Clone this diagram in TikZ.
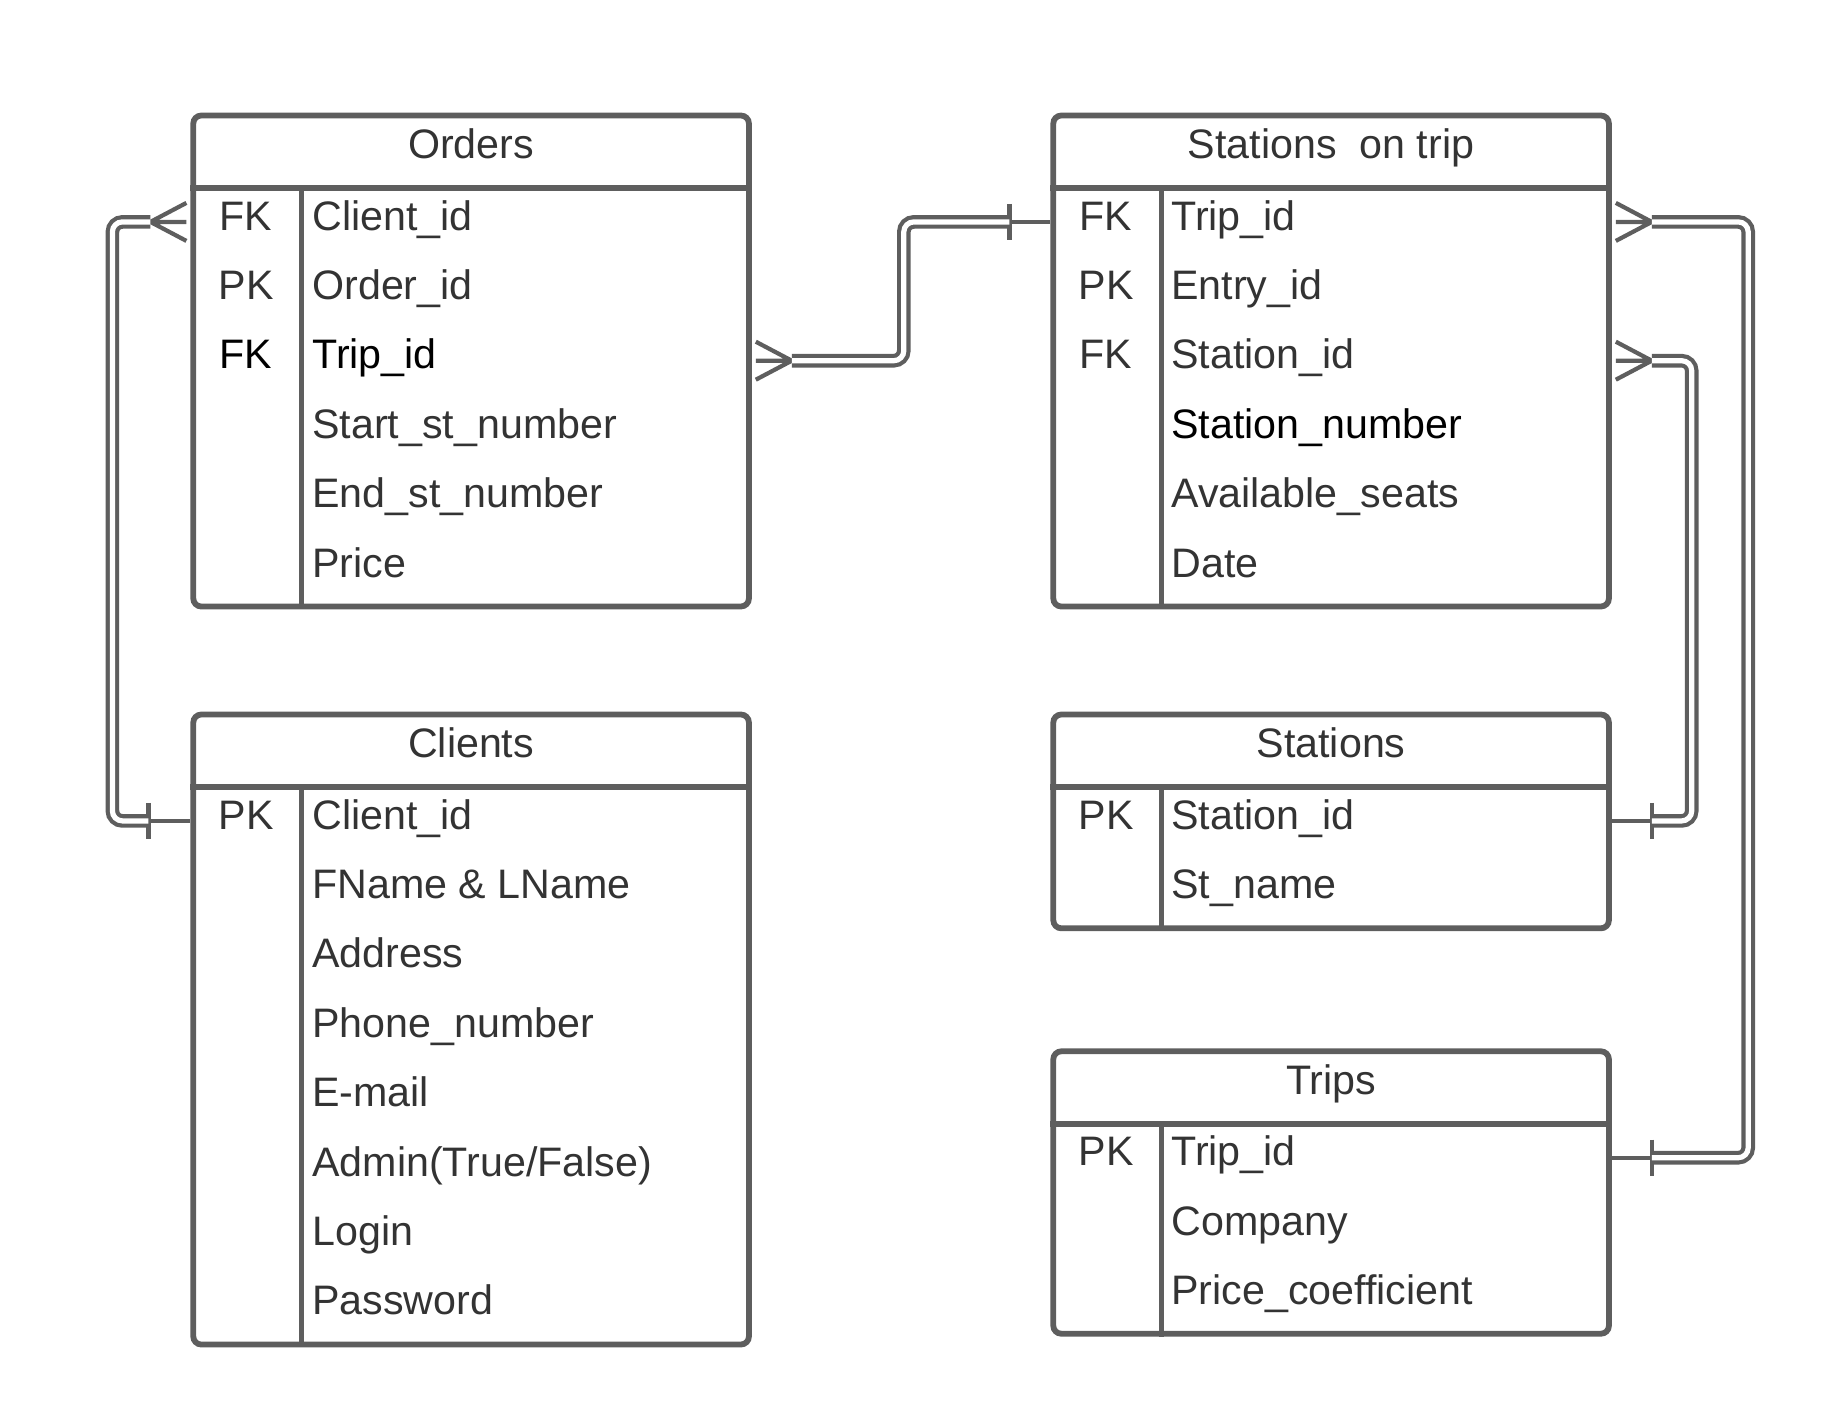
\documentclass[tikz,border=0pt]{standalone}
\usepackage{fontspec}
\setmainfont{Liberation Sans}
\usetikzlibrary{positioning}
\definecolor{linegray}{rgb}{0.37,0.37,0.37}
\definecolor{txtgray}{rgb}{0.2,0.2,0.2}
\tikzset{
  crowfoot/.pic={\draw[conn] (0,-9.5) -- (18,0) -- (0,9.5) (0,0) -- (18,0);},
  onebar/.pic={\draw[conn] (0,-9) -- (0,9);}
}

\begin{document}
\begin{tikzpicture}[x=1pt,y=-1pt,font=\fontsize{20.6}{24}\selectfont]
\tikzstyle{tbl}=[rectangle, draw=linegray, line width=2.9pt, rounded corners=4pt, minimum width=277.8pt, anchor=north west, inner sep=0pt]
\tikzstyle{ttl}=[anchor=north, minimum height=37.3pt, inner sep=0pt, text=txtgray, text height=14.6pt, text depth=6.4pt]
\tikzstyle{key}=[inner sep=0pt, text=txtgray, text height=14.6pt, text depth=6.4pt]
\tikzstyle{fld}=[key, anchor=west]
\tikzstyle{tline}=[draw=linegray, line width=2.9pt]
\tikzstyle{conn}=[draw=linegray, line width=2.1pt]
\tikzstyle{dbl}=[draw=linegray, line width=2.1pt, double=white, double distance=2.6pt, rounded corners=5pt]

\useasboundingbox (0,0) rectangle (911.5,709);

	% Orders
	\node[tbl, minimum height=245.5pt] (ord) at (95.2,56.3) {};
	\node[ttl] (ordT) at (ord.north) {Orders};
	\coordinate (ordK) at ([xshift=55.5pt]ord.north west);
	\draw[tline] (ordT.south -| ord.west) -- (ordT.south -| ord.east);
	\draw[tline] (ordK |- ordT.south) -- (ordK |- ord.south);

	\pgfmathsetmacro{\posv}{93.6};
	\node[key] (ord1k) at (123,\posv+17.35) {FK};
	\node[fld] (ord1) at (156,\posv+17.35) {Client\_id};
	\node[key] (ord2k) at (123,\posv+52.05) {PK};
	\node[fld] (ord2) at (156,\posv+52.05) {Order\_id};
	\node[key, text=black] (ord3k) at (123,\posv+86.75) {FK};
	\node[fld, text=black] (ord3) at (156,\posv+86.75) {Trip\_id};
	\node[fld] (ord4) at (156,\posv+121.45) {Start\_st\_number};
	\node[fld] (ord5) at (156,\posv+156.15) {End\_st\_number};
	\node[fld] (ord6) at (156,\posv+190.85) {Price};

	% Clients
	\node[tbl, minimum height=315pt] (cli) at (95.2,355.8) {};
	\node[ttl] (cliT) at (cli.north) {Clients};
	\coordinate (cliK) at ([xshift=55.5pt]cli.north west);
	\draw[tline] (cliT.south -| cli.west) -- (cliT.south -| cli.east);
	\draw[tline] (cliK |- cliT.south) -- (cliK |- cli.south);

	\pgfmathsetmacro{\posv}{393.1};
	\node[key] (cli1k) at (123,\posv+17.35) {PK};
	\node[fld] (cli1) at (156,\posv+17.35) {Client\_id};
	\node[fld] (cli2) at (156,\posv+52.05) {FName \& LName};
	\node[fld] (cli3) at (156,\posv+86.75) {Address};
	\node[fld] (cli4) at (156,\posv+121.45) {Phone\_number};
	\node[fld] (cli5) at (156,\posv+156.15) {E-mail};
	\node[fld] (cli6) at (156,\posv+190.85) {Admin(True/False)};
	\node[fld] (cli7) at (156,\posv+225.55) {Login};
	\node[fld] (cli8) at (156,\posv+260.25) {Password};

	% Stations on trip
	\node[tbl, minimum height=245.5pt] (sot) at (525.2,56.3) {};
	\node[ttl] (sotT) at (sot.north) {Stations\ \ on trip};
	\coordinate (sotK) at ([xshift=55.5pt]sot.north west);
	\draw[tline] (sotT.south -| sot.west) -- (sotT.south -| sot.east);
	\draw[tline] (sotK |- sotT.south) -- (sotK |- sot.south);

	\pgfmathsetmacro{\posv}{93.6};
	\node[key] (sot1k) at (553,\posv+17.35) {FK};
	\node[fld] (sot1) at (585.5,\posv+17.35) {Trip\_id};
	\node[key] (sot2k) at (553,\posv+52.05) {PK};
	\node[fld] (sot2) at (585.5,\posv+52.05) {Entry\_id};
	\node[key] (sot3k) at (553,\posv+86.75) {FK};
	\node[fld] (sot3) at (585.5,\posv+86.75) {Station\_id};
	\node[fld, text=black] (sot4) at (585.5,\posv+121.45) {Station\_number};
	\node[fld] (sot5) at (585.5,\posv+156.15) {Available\_seats};
	\node[fld] (sot6) at (585.5,\posv+190.85) {Date};

	% Stations
	\node[tbl, minimum height=106.9pt] (sta) at (525.2,355.8) {};
	\node[ttl] (staT) at (sta.north) {Stations};
	\coordinate (staK) at ([xshift=55.5pt]sta.north west);
	\draw[tline] (staT.south -| sta.west) -- (staT.south -| sta.east);
	\draw[tline] (staK |- staT.south) -- (staK |- sta.south);

	\pgfmathsetmacro{\posv}{393.1};
	\node[key] (sta1k) at (553,\posv+17.35) {PK};
	\node[fld] (sta1) at (585.5,\posv+17.35) {Station\_id};
	\node[fld] (sta2) at (585.5,\posv+52.05) {St\_name};

	% Trips
	\node[tbl, minimum height=141.2pt] (trp) at (525.2,524.2) {};
	\node[ttl] (trpT) at (trp.north) {Trips};
	\coordinate (trpK) at ([xshift=55.5pt]trp.north west);
	\draw[tline] (trpT.south -| trp.west) -- (trpT.south -| trp.east);
	\draw[tline] (trpK |- trpT.south) -- (trpK |- trp.south);

	\pgfmathsetmacro{\posv}{561.5};
	\node[key] (trp1k) at (553,\posv+17.35) {PK};
	\node[fld] (trp1) at (585.5,\posv+17.35) {Trip\_id};
	\node[fld] (trp2) at (585.5,\posv+52.05) {Company};
	\node[fld] (trp3) at (585.5,\posv+86.75) {Price\_coefficient};

	% relations
	\coordinate (o1w) at (ord.west |- ord1);
	\coordinate (o3e) at (ord.east |- ord3);
	\coordinate (c1w) at (cli.west |- cli1);
	\coordinate (s1w) at (sot.west |- sot1);
	\coordinate (s1e) at (sot.east |- sot1);
	\coordinate (s3e) at (sot.east |- sot3);
	\coordinate (a1e) at (sta.east |- sta1);
	\coordinate (t1e) at (trp.east |- trp1);

	\coordinate (r1a) at ([xshift=-20pt]o1w);
	\coordinate (r1b) at ([xshift=-21pt]c1w);
	\coordinate (r2a) at ([xshift=20pt]o3e);
	\coordinate (r2b) at ([xshift=-20.5pt]s1w);
	\coordinate (r3a) at ([xshift=20pt]s1e);
	\coordinate (r3b) at ([xshift=20pt]t1e);
	\coordinate (r4a) at ([xshift=20pt]s3e);
	\coordinate (r4b) at ([xshift=20pt]a1e);

	\pic[xscale=-1] at ([xshift=-2pt]o1w) {crowfoot};
	\pic at ([xshift=2pt]o3e) {crowfoot};
	\pic at ([xshift=2pt]s1e) {crowfoot};
	\pic at ([xshift=2pt]s3e) {crowfoot};

	\path (c1w) edge [conn] (r1b)
	      (s1w) edge [conn] (r2b)
	      (t1e) edge [conn] (r3b)
	      (a1e) edge [conn] (r4b);
	\pic at (r1b) {onebar};
	\pic at (r2b) {onebar};
	\pic at (r3b) {onebar};
	\pic at (r4b) {onebar};

	\draw[dbl] (r1a) -- ++(-19,0) |- (r1b);
	\draw[dbl] (r2a) -- ++(56,0) |- (r2b);
	\draw[dbl] (r3a) -- ++(48.2,0) |- (r3b);
	\draw[dbl] (r4a) -- ++(19.95,0) |- (r4b);

\end{tikzpicture}
\end{document}
